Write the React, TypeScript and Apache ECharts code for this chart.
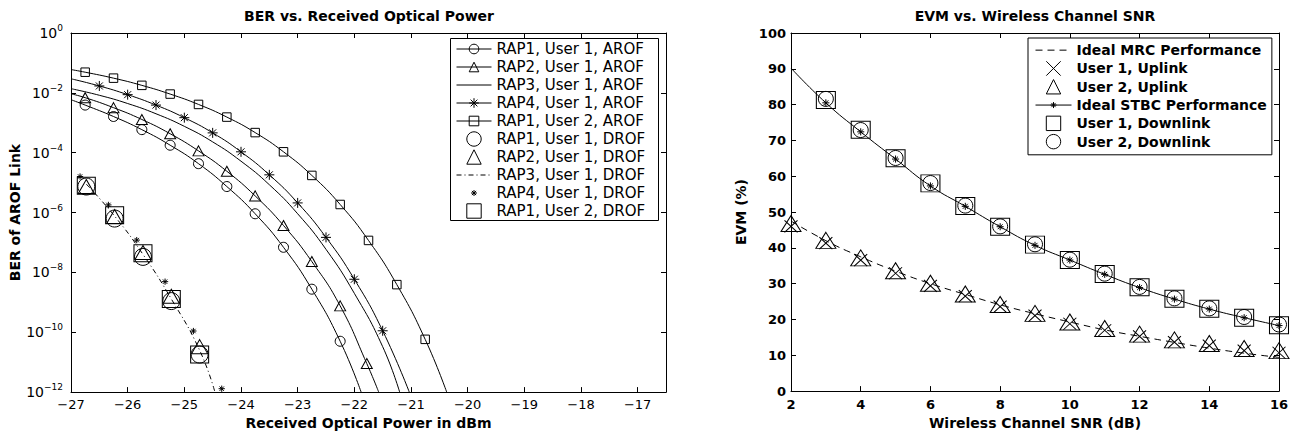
import React, { useEffect, useRef } from "react";
import * as echarts from "echarts";

const FONT = '"DejaVu Sans", "Liberation Sans", sans-serif';

// ---------------- Left panel: BER vs. received optical power ----------------
const berTitle = "BER vs. Received Optical Power";
const berXName = "Received Optical Power in dBm";
const berYName = "BER of AROF Link";

// AROF curves: first and last entries are the curve ends (no marker there)
const rap1u1ArofX = [-27, -26.75, -26.25, -25.75, -25.25, -24.75, -24.25, -23.75, -23.25, -22.75, -22.25, -21.88];
const rap1u1ArofBer = [5.9e-3, 3.9e-3, 1.62e-3, 5.9e-4, 1.78e-4, 4.3e-5, 7.4e-6, 9.1e-7, 6.9e-8, 2.75e-9, 5.0e-11, 1e-12];

const rap2u1ArofX = [-27, -26.75, -26.25, -25.75, -25.25, -24.75, -24.25, -23.75, -23.25, -22.75, -22.25, -21.78, -21.57];
const rap2u1ArofBer = [9.3e-3, 6.9e-3, 3.2e-3, 1.29e-3, 4.3e-4, 1.15e-4, 2.4e-5, 3.6e-6, 3.7e-7, 2.3e-8, 7.6e-10, 9.0e-12, 1e-12];

const rap3u1ArofX = [-27, -26.5, -26, -25.5, -25, -24.5, -24, -23.5, -23, -22.5, -22, -21.5, -21.2];
const rap3u1ArofBer = [1.38e-2, 8.3e-3, 4.4e-3, 2.0e-3, 7.6e-4, 2.3e-4, 5.2e-5, 8.5e-6, 9.1e-7, 5.9e-8, 2.0e-9, 3.3e-11, 1e-12];

const rap4u1ArofX = [-27, -26.5, -26, -25.5, -25, -24.5, -24, -23.5, -23, -22.5, -22, -21.5, -21.03];
const rap4u1ArofBer = [2.95e-2, 1.7e-2, 8.7e-3, 3.9e-3, 1.48e-3, 4.6e-4, 1.07e-4, 1.82e-5, 2.1e-6, 1.48e-7, 5.9e-9, 1.12e-10, 1e-12];

const rap1u2ArofX = [-27, -26.75, -26.25, -25.75, -25.25, -24.75, -24.25, -23.75, -23.25, -22.75, -22.25, -21.75, -21.25, -20.75, -20.37];
const rap1u2ArofBer = [6.0e-2, 4.9e-2, 3.1e-2, 1.78e-2, 9.1e-3, 4.1e-3, 1.55e-3, 4.7e-4, 1.07e-4, 1.74e-5, 1.86e-6, 1.17e-7, 3.9e-9, 5.8e-11, 1e-12];

// DROF measurements
const drofX = [-26.73, -26.23, -25.73, -25.23, -24.73];
const rap1u1DrofBer = [7.4e-6, 6.3e-7, 3.3e-8, 1.1e-9, 1.8e-11];
const rap2u1DrofBer = [7.4e-6, 7.4e-7, 4.6e-8, 1.6e-9, 3.3e-11];
const rap1u2DrofBer = [7.9e-6, 8.1e-7, 4.4e-8, 1.3e-9, 1.8e-11];
const rap3u1DrofX = [-26.73, -26.23, -25.73, -25.23, -24.73, -24.46];
const rap3u1DrofBer = [8.9e-6, 7.6e-7, 4.0e-8, 1.3e-9, 2.5e-11, 1e-12];
const rap4u1DrofX = [-26.84, -26.34, -25.84, -25.34, -24.84, -24.34];
const rap4u1DrofBer = [1.6e-5, 1.8e-6, 1.2e-7, 4.9e-9, 1.1e-10, 1.3e-12];

// ---------------- Right panel: EVM vs. wireless channel SNR ----------------
const evmTitle = "EVM vs. Wireless Channel SNR";
const evmXName = "Wireless Channel SNR (dB)";
const evmYName = "EVM (%)";

const snrDb = [2, 3, 4, 5, 6, 7, 8, 9, 10, 11, 12, 13, 14, 15, 16];
const mrcIdeal = [47.5, 42.0, 37.5, 33.5, 30.0, 27.0, 24.1, 21.6, 19.3, 17.1, 15.3, 13.6, 12.0, 10.6, 9.4];
const user1Uplink = [46.0, 41.3, 36.6, 32.9, 29.4, 26.5, 23.6, 21.1, 18.8, 17.0, 15.3, 13.7, 12.7, 11.3, 10.7];
const user2Uplink = [46.8, 42.1, 37.2, 33.6, 30.1, 27.1, 24.2, 21.7, 19.3, 17.5, 15.9, 14.3, 13.3, 11.9, 11.3];
const stbcIdeal = [90.2, 80.5, 72.4, 64.8, 57.3, 51.6, 45.9, 40.7, 36.6, 32.6, 28.9, 25.7, 22.9, 20.5, 18.3];
const downlinkSnr = [3, 4, 5, 6, 7, 8, 9, 10, 11, 12, 13, 14, 15, 16];
const user1Downlink = [81.3, 73.0, 65.0, 58.0, 51.7, 45.9, 40.9, 36.6, 32.7, 29.0, 25.8, 23.0, 20.5, 18.4];
const user2Downlink = [81.6, 72.9, 65.1, 58.1, 51.8, 46.0, 41.0, 36.7, 32.8, 29.1, 25.9, 23.1, 20.7, 18.6];

// ---------------- symbols ----------------
const ASTER = "path://M5,0L5,10M0,5L10,5M1.5,1.5L8.5,8.5M1.5,8.5L8.5,1.5";
const ASTER_SMALL =
  "path://M0,0L0.01,0M24,24L23.99,24M12,7L12,17M7,12L17,12M8.5,8.5L15.5,15.5M8.5,15.5L15.5,8.5";
const CROSS = "path://M0,0L10,10M0,10L10,0";
const DASH_DOT = [5, 3, 1, 3];
const DASHED = [7, 5];

type SOpt = {
  symbol?: string;
  size?: number | number[];
  endsPlain?: boolean; // first & last points without marker
  firstPlain?: boolean;
  line?: boolean;
  dash?: number[] | string;
};

function mkSeries(name: string, xs: number[], ys: number[], panel: number, o: SOpt) {
  const n = xs.length;
  const data = xs.map((x, i) => {
    const plain = (o.endsPlain && (i === 0 || i === n - 1)) || (o.firstPlain && i === 0);
    return plain ? { value: [x, ys[i]], symbol: "none" } : { value: [x, ys[i]] };
  });
  const hasLine = o.line !== false;
  return {
    type: "line",
    name,
    xAxisIndex: panel * 2,
    yAxisIndex: panel * 2,
    data,
    symbol: o.symbol ?? "none",
    symbolSize: o.size ?? 8,
    showSymbol: !!o.symbol,
    smooth: hasLine ? 0.5 : false,
    clip: false,
    silent: true,
    itemStyle: { color: "transparent", borderColor: "#000", borderWidth: 1 },
    lineStyle: hasLine
      ? { color: "#000", width: 1, type: o.dash ?? "solid" }
      : { color: "#000", width: 0, opacity: 0 },
    emphasis: { disabled: true },
    z: hasLine ? 2 : 3,
  };
}

const markStyle = { color: "transparent", borderColor: "#000", borderWidth: 1, opacity: 1 };
const noMarkStyle = { color: "transparent", borderColor: "transparent", borderWidth: 0, opacity: 0 };
const solidLine = { color: "#000", width: 1, type: "solid", opacity: 1 };
const noLine = { color: "#000", width: 0, opacity: 0 };

const leftLegendA = [
  { name: "RAP1, User 1, AROF", itemStyle: markStyle, lineStyle: solidLine },
  { name: "RAP2, User 1, AROF", itemStyle: markStyle, lineStyle: solidLine },
  { name: "RAP3, User 1, AROF", itemStyle: noMarkStyle, lineStyle: solidLine },
  { name: "RAP4, User 1, AROF", itemStyle: markStyle, lineStyle: solidLine },
  { name: "RAP1, User 2, AROF", itemStyle: markStyle, lineStyle: solidLine },
];
const leftLegendB = [
  { name: "RAP1, User 1, DROF", itemStyle: markStyle, lineStyle: noLine },
  { name: "RAP2, User 1, DROF", itemStyle: markStyle, lineStyle: noLine },
  { name: "RAP3, User 1, DROF", itemStyle: noMarkStyle, lineStyle: { ...solidLine, type: DASH_DOT } },
  { name: "RAP4, User 1, DROF", itemStyle: markStyle, lineStyle: noLine },
  { name: "RAP1, User 2, DROF", itemStyle: markStyle, lineStyle: noLine },
];
const rightLegend = [
  { name: "Ideal MRC Performance", itemStyle: noMarkStyle, lineStyle: { ...solidLine, type: DASHED } },
  { name: "User 1, Uplink", itemStyle: markStyle, lineStyle: noLine },
  { name: "User 2, Uplink", itemStyle: markStyle, lineStyle: noLine },
  { name: "Ideal STBC Performance", itemStyle: markStyle, lineStyle: solidLine },
  { name: "User 1, Downlink", itemStyle: markStyle, lineStyle: noLine },
  { name: "User 2, Downlink", itemStyle: markStyle, lineStyle: noLine },
];

const minus = (v: number) => String(v).replace("-", "\u2212");

const axisLine = { show: true, onZero: false, lineStyle: { color: "#000", width: 1 } };
const tick = { show: true, inside: true, length: 5, lineStyle: { color: "#000", width: 1 } };

function buildOption() {
  const series = [
    mkSeries("RAP1, User 1, AROF", rap1u1ArofX, rap1u1ArofBer, 0, { symbol: "circle", size: 10, endsPlain: true }),
    mkSeries("RAP2, User 1, AROF", rap2u1ArofX, rap2u1ArofBer, 0, { symbol: "triangle", size: [11, 10], endsPlain: true }),
    mkSeries("RAP3, User 1, AROF", rap3u1ArofX, rap3u1ArofBer, 0, {}),
    mkSeries("RAP4, User 1, AROF", rap4u1ArofX, rap4u1ArofBer, 0, { symbol: ASTER, size: 10, endsPlain: true }),
    mkSeries("RAP1, User 2, AROF", rap1u2ArofX, rap1u2ArofBer, 0, { symbol: "rect", size: 8.5, endsPlain: true }),
    mkSeries("RAP1, User 1, DROF", drofX, rap1u1DrofBer, 0, { symbol: "circle", size: 17, line: false }),
    mkSeries("RAP2, User 1, DROF", drofX, rap2u1DrofBer, 0, { symbol: "triangle", size: [16, 14], line: false }),
    mkSeries("RAP3, User 1, DROF", rap3u1DrofX, rap3u1DrofBer, 0, { dash: DASH_DOT }),
    mkSeries("RAP4, User 1, DROF", rap4u1DrofX, rap4u1DrofBer, 0, { symbol: ASTER_SMALL, size: 15, line: false }),
    mkSeries("RAP1, User 2, DROF", drofX, rap1u2DrofBer, 0, { symbol: "rect", size: [18, 17], line: false }),

    mkSeries("Ideal MRC Performance", snrDb, mrcIdeal, 1, { dash: DASHED }),
    mkSeries("User 1, Uplink", snrDb, user1Uplink, 1, { symbol: CROSS, size: [13, 12], line: false }),
    mkSeries("User 2, Uplink", snrDb, user2Uplink, 1, { symbol: "triangle", size: [20, 16], line: false }),
    mkSeries("Ideal STBC Performance", snrDb, stbcIdeal, 1, { symbol: ASTER_SMALL, size: 17, firstPlain: true }),
    mkSeries("User 1, Downlink", downlinkSnr, user1Downlink, 1, { symbol: "rect", size: [19, 17], line: false }),
    mkSeries("User 2, Downlink", downlinkSnr, user2Downlink, 1, { symbol: "circle", size: 15, line: false }),
  ];

  const legendText = { fontFamily: FONT, fontSize: 15, color: "#000", lineHeight: 18 };

  return {
    animation: false,
    backgroundColor: "#fff",
    textStyle: { fontFamily: FONT, color: "#000" },
    grid: [
      { left: 71, top: 33, width: 595, height: 363, containLabel: false },
      { left: 791, top: 33, width: 488, height: 363, containLabel: false },
    ],
    xAxis: [
      {
        type: "value", gridIndex: 0, position: "bottom", min: -27, max: -16.5, interval: 1,
        axisLine, axisTick: tick, splitLine: { show: false },
        axisLabel: {
          color: "#000", fontFamily: FONT, fontSize: 13, margin: 6,
          formatter: (v: number) => (Number.isInteger(v) ? minus(v) : ""),
        },
        name: berXName, nameLocation: "middle", nameGap: 21,
        nameTextStyle: { fontFamily: FONT, fontSize: 14, fontWeight: "bold", color: "#000" },
      },
      {
        type: "value", gridIndex: 0, position: "top", min: -27, max: -16.5, interval: 1,
        axisLine, axisTick: tick, splitLine: { show: false }, axisLabel: { show: false },
      },
      {
        type: "value", gridIndex: 1, position: "bottom", min: 2, max: 16, interval: 2,
        axisLine, axisTick: tick, splitLine: { show: false },
        axisLabel: { color: "#000", fontFamily: FONT, fontSize: 13, fontWeight: "bold", margin: 7 },
        name: evmXName, nameLocation: "middle", nameGap: 22,
        nameTextStyle: { fontFamily: FONT, fontSize: 14, fontWeight: "bold", color: "#000" },
      },
      {
        type: "value", gridIndex: 1, position: "top", min: 2, max: 16, interval: 2,
        axisLine, axisTick: tick, splitLine: { show: false }, axisLabel: { show: false },
      },
    ],
    yAxis: [
      {
        type: "log", logBase: 10, gridIndex: 0, position: "left", min: 1e-12, max: 1, interval: 2,
        axisLine, axisTick: tick, splitLine: { show: false }, minorTick: { show: false },
        axisLabel: {
          color: "#000", margin: 8,
          formatter: (v: number) => {
            const e = Math.round(Math.log10(v));
            return `{b|10}{s|${minus(e)}}`;
          },
          rich: {
            b: { fontFamily: FONT, fontSize: 14, lineHeight: 19, verticalAlign: "middle", color: "#000" },
            s: { fontFamily: FONT, fontSize: 9, lineHeight: 9, verticalAlign: "top", color: "#000" },
          },
        },
        name: berYName, nameLocation: "middle", nameGap: 48,
        nameTextStyle: { fontFamily: FONT, fontSize: 14, fontWeight: "bold", color: "#000" },
      },
      {
        type: "log", logBase: 10, gridIndex: 0, position: "right", min: 1e-12, max: 1, interval: 2,
        axisLine, axisTick: tick, splitLine: { show: false }, axisLabel: { show: false },
      },
      {
        type: "value", gridIndex: 1, position: "left", min: 0, max: 100, interval: 10,
        axisLine, axisTick: tick, splitLine: { show: false },
        axisLabel: { color: "#000", fontFamily: FONT, fontSize: 13, fontWeight: "bold", margin: 5 },
        name: evmYName, nameLocation: "middle", nameGap: 43,
        nameTextStyle: { fontFamily: FONT, fontSize: 14, fontWeight: "bold", color: "#000" },
      },
      {
        type: "value", gridIndex: 1, position: "right", min: 0, max: 100, interval: 10,
        axisLine, axisTick: tick, splitLine: { show: false }, axisLabel: { show: false },
      },
    ],
    legend: [
      {
        orient: "vertical", left: 456, top: 40, padding: 0, itemGap: 0, itemWidth: 35, itemHeight: 12,
        selectedMode: false, textStyle: legendText, data: leftLegendA,
      },
      {
        orient: "vertical", left: 456, top: 130, padding: 0, itemGap: 0, itemWidth: 35, itemHeight: 18,
        selectedMode: false, textStyle: legendText, data: leftLegendB,
      },
      {
        orient: "vertical", left: 1028, top: 38, padding: [3, 5, 4, 7], itemGap: 0, itemWidth: 36, itemHeight: 18,
        borderColor: "#000", borderWidth: 1, backgroundColor: "#fff", selectedMode: false,
        textStyle: { fontFamily: FONT, fontSize: 14, fontWeight: "bold", color: "#000", lineHeight: 18.3 },
        data: rightLegend,
      },
    ],
    graphic: [
      {
        type: "rect", z: 3, silent: true,
        shape: { x: 450.5, y: 38.5, width: 208, height: 182 },
        style: { fill: "#fff", stroke: "#000", lineWidth: 1 },
      },
      {
        type: "text", x: 369, y: 16, z: 5, silent: true,
        style: { text: berTitle, font: `bold 14px ${FONT}`, align: "center", verticalAlign: "middle", fill: "#000" },
      },
      {
        type: "text", x: 1035, y: 16, z: 5, silent: true,
        style: { text: evmTitle, font: `bold 14px ${FONT}`, align: "center", verticalAlign: "middle", fill: "#000" },
      },
    ],
    series,
  };
}

export default function App() {
  const ref = useRef<HTMLDivElement>(null);
  useEffect(() => {
    if (!ref.current) return;
    const chart = echarts.init(ref.current, null, { renderer: "svg" });
    chart.setOption(buildOption() as any);
    return () => chart.dispose();
  }, []);
  return (
    <div
      ref={ref}
      style={{ position: "absolute", left: 0, top: 0, width: 1297, height: 435, background: "#fff" }}
    />
  );
}
